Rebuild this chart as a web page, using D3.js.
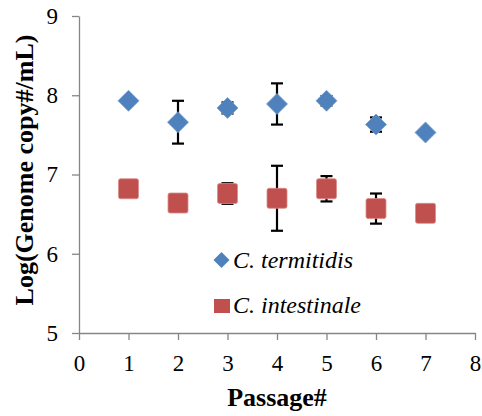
<!DOCTYPE html>
<html>
<head>
<meta charset="utf-8">
<script src="https://cdn.jsdelivr.net/npm/d3@7"></script>
<style>
  body { margin: 0; background: #fff; }
</style>
</head>
<body>
<div id="chart"></div>
<script>
// data
const passages = [1, 2, 3, 4, 5, 6, 7];
const termitidis = [7.93, 7.66, 7.84, 7.89, 7.93, 7.63, 7.53];
const termitidisErr = [0.03, 0.27, 0.07, 0.26, 0.06, 0.09, 0.02];
const intestinale = [6.82, 6.64, 6.76, 6.70, 6.82, 6.57, 6.51];
const intestinaleErr = [0.05, 0.05, 0.13, 0.41, 0.16, 0.19, 0.05];
const xTicks = [0, 1, 2, 3, 4, 5, 6, 7, 8];
const yTicks = [5, 6, 7, 8, 9];

const serif = "'Liberation Serif'";

const margin = { top: 16, right: 7, bottom: 83, left: 79 };
const width = 482 - margin.left - margin.right;
const height = 416 - margin.top - margin.bottom;

const svg = d3.select("#chart")
  .append("svg")
    .attr("width", 482)
    .attr("height", 416)
    .attr("font-family", serif)
  .append("g")
    .attr("transform", "translate(" + margin.left + "," + margin.top + ")");

const x = d3.scaleLinear().domain([0, 8]).range([0, width]);
const y = d3.scaleLinear().domain([5, 9]).range([height, 0]);

// axes
const xAxis = svg.append("g")
  .attr("transform", "translate(0," + height + ")")
  .call(d3.axisBottom(x).tickValues(xTicks).tickFormat(d3.format("d"))
    .tickSize(7).tickSizeOuter(0).tickPadding(15));
const yAxis = svg.append("g")
  .call(d3.axisLeft(y).tickValues(yTicks).tickFormat(d3.format("d"))
    .tickSize(7).tickSizeOuter(0).tickPadding(14));

[xAxis, yAxis].forEach(function(a) {
  a.attr("font-family", serif).attr("font-size", 23);
  a.select(".domain").attr("stroke", "#868686").attr("stroke-width", 1.3);
  a.selectAll(".tick line").attr("stroke", "#868686").attr("stroke-width", 1.3);
  a.selectAll(".tick text").attr("fill", "#000");
});

// axis titles
svg.append("text")
  .attr("x", 277 - margin.left)
  .attr("y", 406 - margin.top)
  .attr("text-anchor", "middle")
  .attr("font-family", serif)
  .attr("font-size", 26)
  .attr("font-weight", "bold")
  .text("Passage#");

svg.append("text")
  .attr("transform", "translate(" + (33 - margin.left) + "," + (170 - margin.top) + ") rotate(-90)")
  .attr("text-anchor", "middle")
  .attr("font-family", serif)
  .attr("font-size", 26)
  .attr("font-weight", "bold")
  .text("Log(Genome copy#/mL)");

const series = [
  { name: "C. termitidis", values: termitidis, err: termitidisErr },
  { name: "C. intestinale", values: intestinale, err: intestinaleErr }
];

// error bars behind the markers
series.forEach(function(s) {
  const g = svg.append("g").attr("stroke", "#000").attr("stroke-width", 2.2);
  passages.forEach(function(p, i) {
    const cx = x(p);
    const top = y(s.values[i] + s.err[i]);
    const bot = y(s.values[i] - s.err[i]);
    g.append("line").attr("x1", cx).attr("x2", cx).attr("y1", top).attr("y2", bot);
    g.append("line").attr("x1", cx - 6).attr("x2", cx + 6).attr("y1", top).attr("y2", top);
    g.append("line").attr("x1", cx - 6).attr("x2", cx + 6).attr("y1", bot).attr("y2", bot);
  });
});

// markers
const diamond = function(cx, cy, r) {
  return "M" + cx + "," + (cy - r) + "L" + (cx + r) + "," + cy + "L" + cx + "," + (cy + r) + "L" + (cx - r) + "," + cy + "Z";
};

svg.append("g").selectAll("path")
  .data(passages)
  .enter().append("path")
    .attr("d", function(p, i) { return diamond(x(p), y(termitidis[i]), 10.5); })
    .attr("fill", "#4F81BD")
    .attr("stroke", "#7aa0d0")
    .attr("stroke-width", 0.8);

svg.append("g").selectAll("rect")
  .data(passages)
  .enter().append("rect")
    .attr("x", function(p) { return x(p) - 10; })
    .attr("y", function(p, i) { return y(intestinale[i]) - 10; })
    .attr("width", 20)
    .attr("height", 20)
    .attr("rx", 2)
    .attr("fill", "#C0504D")
    .attr("stroke", "#dc8c8a")
    .attr("stroke-width", 0.8);

// legend
const legend = svg.append("g");
legend.append("path")
  .attr("d", diamond(221.5 - margin.left, 260 - margin.top, 8))
  .attr("fill", "#4F81BD");
legend.append("rect")
  .attr("x", 214 - margin.left)
  .attr("y", 299 - margin.top)
  .attr("width", 16)
  .attr("height", 14)
  .attr("fill", "#C0504D");
legend.selectAll("text")
  .data(series)
  .enter().append("text")
    .attr("x", 233 - margin.left)
    .attr("y", function(d, i) { return (i === 0 ? 268 : 313) - margin.top; })
    .attr("font-family", serif)
    .attr("font-size", 24)
    .attr("font-style", "italic")
    .text(function(d) { return d.name; });
</script>
</body>
</html>
